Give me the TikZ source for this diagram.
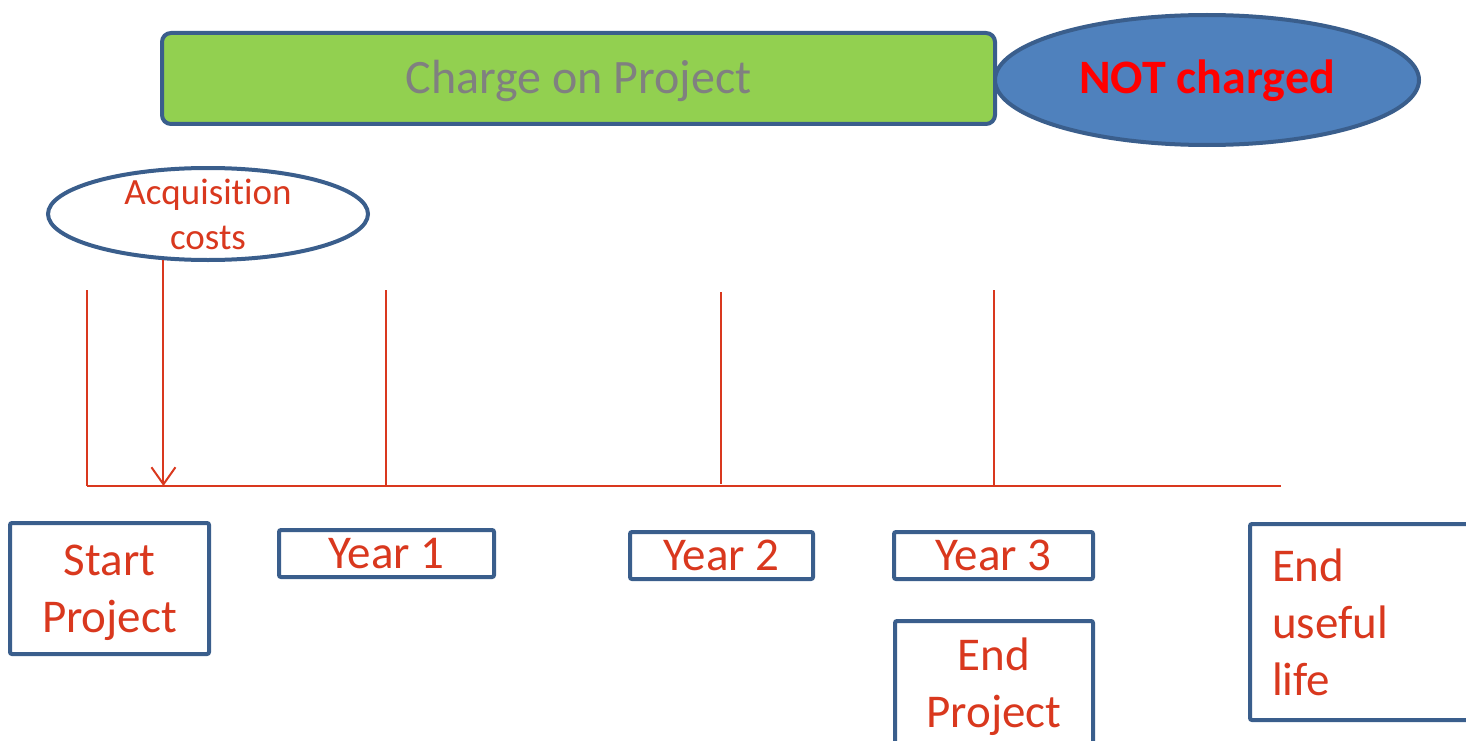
\documentclass[tikz,border=0pt]{standalone}
\usepackage{fontspec}
\setmainfont[Ligatures=NoCommon]{Carlito}
\usetikzlibrary{shapes.geometric,arrows.meta}
\definecolor{bord}{RGB}{58,94,140}
\definecolor{lgreen}{RGB}{146,208,80}
\definecolor{bfill}{RGB}{79,129,189}
\definecolor{gtext}{RGB}{128,128,128}
\definecolor{ored}{RGB}{217,56,30}
\definecolor{pred}{RGB}{255,0,0}
\begin{document}
\begin{tikzpicture}[x=1pt,y=-1pt,
  labelbox/.style={draw=bord, line width=4pt, fill=white, rounded corners=2pt, inner sep=0pt,
    font=\fontsize{47}{57}\selectfont, text=ored, align=center},
  tick/.style={draw=ored, line width=1.5pt},
  axisline/.style={draw=ored, line width=2pt}]
\useasboundingbox (0,0) rectangle (1466,741);
\clip (0,0) rectangle (1466,741);

% top bar
\node[draw=bord, line width=4pt, fill=lgreen, rounded corners=9pt, inner sep=0pt,
  minimum width=833pt, minimum height=91pt, text=gtext, font=\fontsize{48}{57}\selectfont,
  text height=31pt, text depth=0pt]
  (charge) at (578.5,78.5) {Charge on Project};
\node[ellipse, draw=bord, line width=4pt, fill=bfill, inner sep=0pt,
  minimum width=424pt, minimum height=130pt, text=pred, font=\fontsize{48}{57}\selectfont\bfseries,
  text height=27pt, text depth=0pt]
  (notch) at (1207,80) {NOT charged};

% acquisition
\node[ellipse, draw=bord, line width=4pt, fill=white, inner sep=0pt,
  minimum width=320pt, minimum height=92pt, text=ored, font=\fontsize{37}{45}\selectfont]
  (acq) at (208,214) {\smash{\raisebox{-10pt}{\begin{tabular}{@{}c@{}}Acquisit\kern0pt ion\\costs\end{tabular}}}};

% timeline
\coordinate (tl0) at (87,486);
\coordinate (tl1) at (1281,486);
\coordinate (k0) at (87,290);
\coordinate (k1) at (386,290);
\coordinate (k2) at (721,292);
\coordinate (k3) at (994,290);
\draw[axisline] (tl0) -- (tl1);
\draw[tick] (k0) -- (k0 |- tl0);
\draw[tick] (k1) -- (k1 |- tl0);
\draw[tick] (k2) -- ([yshift=2pt]k2 |- tl0);
\draw[tick] (k3) -- (k3 |- tl0);
\draw[draw=ored, line width=2pt, -{Straight Barb[length=17pt,width=24pt,line width=2pt]}]
  (acq.226) -- (acq.226 |- tl0);

% boxes
\node[labelbox, minimum width=199pt, minimum height=131pt] (start) at (109.5,588.5)
  {\rule{0pt}{40pt}Start\\Project};
\node[labelbox, minimum width=215pt, minimum height=47pt] (y1) at (386.5,553.5) {Year 1};
\node[labelbox, minimum width=183pt, minimum height=47pt] (y2) at (721.5,555.5) {Year 2};
\node[labelbox, minimum width=199pt, minimum height=47pt] (y3) at (993.5,555.5) {Year 3};
\node[labelbox, minimum width=198pt, minimum height=140pt] (endp) at (994,691)
  {End\\Project\rule[-17pt]{0pt}{17pt}};
\node[labelbox, anchor=north west, align=left, text width=218pt, inner xsep=22pt,
  minimum width=262pt, minimum height=196pt] (endl) at (1248,522) {End\\useful\\life};
\end{tikzpicture}
\end{document}
